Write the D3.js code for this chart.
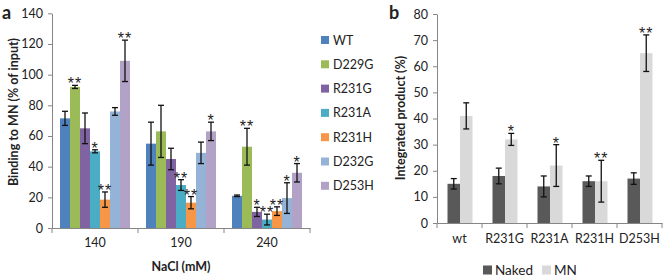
<!DOCTYPE html>
<html>
<head>
<meta charset="utf-8">
<script src="https://cdn.jsdelivr.net/npm/d3@7"></script>
<style>
body { margin: 0; background: #fff; }
text { font-family: Lato, "Open Sans", sans-serif; fill: #222; }
</style>
</head>
<body>
<svg id="chart"></svg>
<script>
// Panel a data
const nacl = ["140", "190", "240"];
const variants = ["WT", "D229G", "R231G", "R231A", "R231H", "D232G", "D253H"];
const variantColors = ["#4f81bd", "#9bbb59", "#8064a2", "#4bacc6", "#f79646", "#95b3d7", "#b3a2c7"];
const binding140 = [71.5, 92, 65, 50, 18.5, 76, 109];
const binding190 = [55, 63, 45, 28, 16.5, 49, 63];
const binding240 = [21, 53, 10.5, 5.5, 11, 19.5, 36];
const err140 = [4.6, 1, 10, 1, 5, 2.5, 13.5];
const err190 = [14, 17, 7, 3.5, 4, 7, 6];
const err240 = [0.5, 12, 3, 3.5, 2.8, 10, 6];
const stars140 = ["", "**", "", "*", "**", "", "**"];
const stars190 = ["", "", "", "**", "**", "", "*"];
const stars240 = ["", "**", "*", "**", "**", "*", "*"];
const yTicksA = [0, 20, 40, 60, 80, 100, 120, 140];

// Panel b data
const mutants = ["wt", "R231G", "R231A", "R231H", "D253H"];
const treatments = ["Naked", "MN"];
const treatmentColors = ["#595959", "#d9d9d9"];
const naked = [15, 18, 14, 16, 17];
const nakedErr = [2, 3, 4, 2, 2.2];
const mn = [41, 32, 22, 16, 65];
const mnErr = [5, 2.3, 8, 8, 7];
const mnStars = ["", "*", "*", "**", "**"];
const yTicksB = [0, 10, 20, 30, 40, 50, 60, 70, 80];

const svg = d3.select("#chart").attr("width", 664).attr("height", 278);
const axisColor = "#868686";

function styleAxis(g) {
  g.selectAll("path, line").attr("stroke", axisColor);
  g.selectAll("text").style("font-size", "12.5px").attr("fill", "#222");
}

// ---------- panel a ----------
const xA = d3.scaleBand().domain(nacl).range([52, 310]);
const subA = d3.scaleBand().domain(variants).range([8, xA.bandwidth() - 8]);
const yA = d3.scaleLinear().domain([0, 140]).range([228, 13.3]);

const rowsA = [];
nacl.forEach((n, i) => {
  const vals = [binding140, binding190, binding240][i];
  const errs = [err140, err190, err240][i];
  const st = [stars140, stars190, stars240][i];
  variants.forEach((v, j) => rowsA.push({n, v, j, value: vals[j], err: errs[j], star: st[j]}));
});

svg.append("g")
  .attr("transform", "translate(52,0)")
  .call(d3.axisLeft(yA).tickValues(yTicksA).tickSize(4).tickSizeOuter(0).tickPadding(5))
  .call(styleAxis);

const gxA = svg.append("g")
  .attr("transform", "translate(0,228)")
  .call(d3.axisBottom(xA).tickSize(0).tickSizeOuter(0).tickPadding(10))
  .call(styleAxis);
const boundsA = nacl.map(d => xA(d)).concat([xA.range()[1]]);
gxA.selectAll(".bound").data(boundsA).join("line")
  .attr("x1", d => d).attr("x2", d => d).attr("y1", 0).attr("y2", 5)
  .attr("stroke", axisColor);

const barsA = svg.append("g");
barsA.selectAll("rect").data(rowsA).join("rect")
  .attr("x", d => xA(d.n) + subA(d.v))
  .attr("y", d => yA(d.value))
  .attr("width", subA.bandwidth())
  .attr("height", d => yA(0) - yA(d.value))
  .attr("fill", d => variantColors[d.j]);

function errorBars(g, rows, xf, y, w) {
  const e = g.selectAll("g.err").data(rows).join("g").attr("class", "err");
  e.append("line").attr("x1", xf).attr("x2", xf)
    .attr("y1", d => y(d.value + d.err)).attr("y2", d => y(d.value - d.err));
  e.append("line").attr("x1", d => xf(d) - w).attr("x2", d => xf(d) + w)
    .attr("y1", d => y(d.value + d.err)).attr("y2", d => y(d.value + d.err));
  e.append("line").attr("x1", d => xf(d) - w).attr("x2", d => xf(d) + w)
    .attr("y1", d => y(d.value - d.err)).attr("y2", d => y(d.value - d.err));
  e.selectAll("line").attr("stroke", "#111").attr("stroke-width", 1.3);
  g.selectAll("text.star").data(rows.filter(d => d.star)).join("text")
    .attr("class", "star")
    .attr("x", xf)
    .attr("y", d => y(d.value + d.err) + 4)
    .attr("text-anchor", "middle")
    .style("font-size", "16px")
    .style("letter-spacing", "1px")
    .style("font-family", "'Liberation Sans', sans-serif")
    .text(d => d.star);
}
errorBars(svg.append("g"), rowsA, d => xA(d.n) + subA(d.v) + subA.bandwidth() / 2, yA, 3);

// axis titles panel a
svg.append("text").attr("transform", "translate(18,112) rotate(-90)")
  .attr("text-anchor", "middle").style("font-size", "12.5px").style("font-weight", "bold")
  .text("Binding to MN (% of input)");
svg.append("text").attr("x", 181).attr("y", 271)
  .attr("text-anchor", "middle").style("font-size", "12.5px").style("font-weight", "bold")
  .text("NaCl (mM)");
svg.append("text").attr("x", 2).attr("y", 19)
  .style("font-size", "18px").style("font-weight", "bold").text("a");

// legend panel a
const legA = svg.append("g").selectAll("g").data(variants).join("g")
  .attr("transform", (d, i) => `translate(321,${40 + i * 24.3})`);
legA.append("rect").attr("x", 0).attr("y", -4).attr("width", 8).attr("height", 8)
  .attr("fill", (d, i) => variantColors[i]);
legA.append("text").attr("x", 12).attr("y", 4.5).style("font-size", "12.5px").text(d => d);

// ---------- panel b ----------
const xB = d3.scaleBand().domain(mutants).range([437, 662]);
const subB = d3.scaleBand().domain(treatments).range([10.5, xB.bandwidth() - 9.5]);
const yB = d3.scaleLinear().domain([0, 80]).range([223, 14]);

const rowsB = [];
mutants.forEach((m, i) => {
  rowsB.push({m, t: "Naked", k: 0, value: naked[i], err: nakedErr[i], star: ""});
  rowsB.push({m, t: "MN", k: 1, value: mn[i], err: mnErr[i], star: mnStars[i]});
});

svg.append("g")
  .attr("transform", "translate(437,0)")
  .call(d3.axisLeft(yB).tickValues(yTicksB).tickSize(4).tickSizeOuter(0).tickPadding(5))
  .call(styleAxis);

const gxB = svg.append("g")
  .attr("transform", "translate(0,223)")
  .call(d3.axisBottom(xB).tickSize(0).tickSizeOuter(0).tickPadding(11))
  .call(styleAxis);
const boundsB = mutants.map(d => xB(d)).concat([xB.range()[1]]);
gxB.selectAll(".bound").data(boundsB).join("line")
  .attr("x1", d => d).attr("x2", d => d).attr("y1", 0).attr("y2", 5)
  .attr("stroke", axisColor);

svg.append("g").selectAll("rect").data(rowsB).join("rect")
  .attr("x", d => xB(d.m) + subB(d.t))
  .attr("y", d => yB(d.value))
  .attr("width", subB.bandwidth())
  .attr("height", d => yB(0) - yB(d.value))
  .attr("fill", d => treatmentColors[d.k]);

errorBars(svg.append("g"), rowsB, d => xB(d.m) + subB(d.t) + subB.bandwidth() / 2, yB, 3);

svg.append("text").attr("transform", "translate(405,118) rotate(-90)")
  .attr("text-anchor", "middle").style("font-size", "12.5px").style("font-weight", "bold")
  .text("Integrated product (%)");
svg.append("text").attr("x", 389).attr("y", 19)
  .style("font-size", "18px").style("font-weight", "bold").text("b");

const legB = svg.append("g").selectAll("g").data(treatments).join("g")
  .attr("transform", (d, i) => `translate(${[483, 542][i]},270)`);
legB.append("rect").attr("x", 0).attr("y", -4.5).attr("width", 9).attr("height", 9)
  .attr("fill", (d, i) => treatmentColors[i]);
legB.append("text").attr("x", 12).attr("y", 5).style("font-size", "13.5px").text(d => d);
</script>
</body>
</html>
